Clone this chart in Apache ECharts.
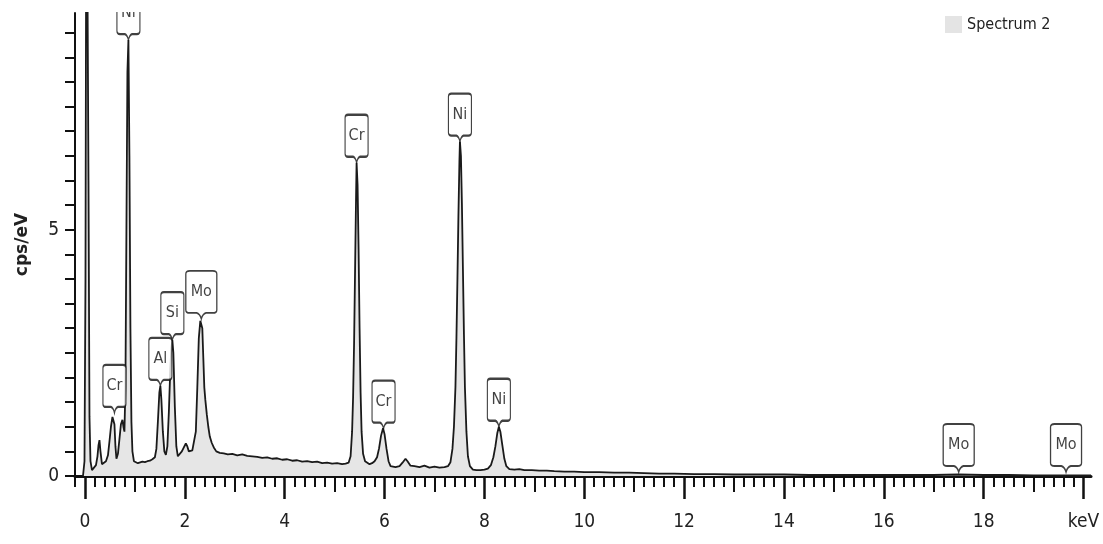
<!DOCTYPE html>
<html><head><meta charset="utf-8">
<script src="https://cdn.jsdelivr.net/npm/echarts@6/dist/echarts.min.js"></script>
<style>html,body{margin:0;padding:0;background:#fff}#c{width:1103px;height:544px}</style>
</head><body><div id="c"></div>
<script>
// EDS spectrum: [energy keV, cps/eV]
const spectrum = [
[-0.04,0],[-0.01,0.3],[0.01,4],[0.03,14],[0.05,14],[0.07,6],[0.09,1.2],[0.11,0.3],[0.14,0.12],[0.18,0.16],
[0.22,0.22],[0.25,0.4],[0.27,0.62],[0.29,0.73],[0.31,0.5],[0.34,0.24],[0.38,0.22],[0.42,0.3],[0.46,0.42],[0.49,0.7],
[0.52,1.0],[0.55,1.2],[0.57,1.24],[0.59,1.05],[0.61,0.6],[0.63,0.35],[0.66,0.45],[0.69,0.75],[0.72,1.05],[0.75,1.14],
[0.77,1.0],[0.79,0.9],[0.81,1.8],[0.83,5],[0.85,8.2],[0.87,8.85],[0.89,6.5],[0.91,3.0],[0.93,1.1],[0.95,0.5],
[0.98,0.3],[1.02,0.27],[1.06,0.26],[1.1,0.27],[1.15,0.29],[1.2,0.28],[1.25,0.3],[1.3,0.31],[1.35,0.34],[1.4,0.38],
[1.43,0.55],[1.46,1.1],[1.49,1.7],[1.51,1.83],[1.53,1.55],[1.56,0.9],[1.59,0.5],[1.62,0.43],[1.65,0.6],[1.68,1.3],
[1.71,2.2],[1.73,2.6],[1.75,2.76],[1.77,2.5],[1.8,1.4],[1.83,0.6],[1.86,0.4],[1.9,0.44],[1.94,0.5],[1.98,0.58],
[2.02,0.66],[2.05,0.6],[2.08,0.5],[2.11,0.47],[2.15,0.52],[2.19,0.56],[2.22,0.9],[2.25,1.8],[2.28,2.8],[2.31,3.15],
[2.33,3.19],[2.35,3.0],[2.37,2.4],[2.39,1.8],[2.41,1.55],[2.44,1.25],[2.47,1.0],[2.5,0.8],[2.54,0.67],[2.58,0.58],
[2.63,0.5],[2.7,0.47],[2.78,0.46],[2.86,0.44],[2.95,0.45],[3.05,0.42],[3.15,0.44],[3.25,0.41],[3.35,0.4],[3.45,0.39],
[3.55,0.37],[3.65,0.38],[3.75,0.35],[3.85,0.36],[3.95,0.33],[4.05,0.34],[4.15,0.31],[4.25,0.32],[4.35,0.29],[4.45,0.3],
[4.55,0.28],[4.65,0.29],[4.75,0.26],[4.85,0.27],[4.95,0.25],[5.05,0.26],[5.15,0.24],[5.22,0.25],[5.28,0.27],[5.32,0.4],
[5.35,0.9],[5.37,1.6],[5.39,2.7],[5.41,4.2],[5.43,5.7],[5.44,6.36],[5.46,5.9],[5.48,4.6],[5.5,3.0],[5.52,1.7],
[5.54,0.9],[5.57,0.45],[5.61,0.3],[5.65,0.26],[5.7,0.24],[5.75,0.26],[5.8,0.3],[5.85,0.38],[5.89,0.56],[5.93,0.82],
[5.97,0.97],[6.0,0.85],[6.04,0.55],[6.08,0.3],[6.12,0.2],[6.16,0.16],[6.22,0.18],[6.3,0.2],[6.36,0.27],[6.42,0.35],
[6.46,0.3],[6.52,0.21],[6.6,0.2],[6.7,0.18],[6.8,0.21],[6.9,0.17],[7.0,0.19],[7.1,0.17],[7.2,0.18],[7.27,0.2],
[7.32,0.28],[7.36,0.55],[7.39,1.0],[7.42,1.8],[7.44,2.8],[7.46,4.0],[7.48,5.3],[7.5,6.4],[7.51,6.79],[7.53,6.5],
[7.55,5.5],[7.57,4.2],[7.59,2.9],[7.61,1.8],[7.64,0.9],[7.67,0.4],[7.71,0.2],[7.77,0.13],[7.84,0.12],[7.92,0.12],
[8.0,0.13],[8.07,0.15],[8.13,0.22],[8.18,0.38],[8.22,0.6],[8.26,0.88],[8.29,1.0],[8.32,0.9],[8.36,0.62],[8.4,0.35],
[8.44,0.2],[8.5,0.14],[8.6,0.13],[8.7,0.14],[8.8,0.12],[8.95,0.12],[9.1,0.11],[9.25,0.11],[9.4,0.1],[9.6,0.09],
[9.8,0.09],[10.0,0.08],[10.3,0.08],[10.6,0.07],[10.9,0.07],[11.2,0.06],[11.5,0.05],[11.8,0.05],[12.2,0.04],[12.6,0.04],
[13.0,0.03],[13.5,0.03],[14.0,0.03],[14.5,0.02],[15.0,0.02],[15.5,0.02],[16.0,0.02],[16.5,0.02],[17.0,0.02],[17.5,0.03],
[18.0,0.02],[18.5,0.02],[19.0,0.01],[19.5,0.01],[20.0,0.01],[20.15,0.01]
];
// peak identification labels
const peakNames = ['Ni','Cr','Al','Si','Mo','Cr','Cr','Ni','Ni','Mo','Mo'];
const peakKeV   = [0.87, 0.59, 1.51, 1.75, 2.33, 5.44, 5.98, 7.51, 8.29, 17.5, 19.65];
const peakCps   = [8.85, 1.28, 1.83, 2.76, 3.19, 6.36, 0.96, 6.79, 1.0, 0.08, 0.08];
// axis ticks / labels
const xMajorTicks = [0,2,4,6,8,10,12,14,16,18,20];
const xMidTicks = [1,3,5,7,9,11,13,15,17,19];
const yTicks = [0,0.5,1,1.5,2,2.5,3,3.5,4,4.5,5,5.5,6,6.5,7,7.5,8,8.5,9];
const yLabels = [0,5];
const xMinorTicks = [];
for (let i = -1; i <= 100; i++) { const v = +(i * 0.2).toFixed(1); if (Math.abs(v - Math.round(v)) > 1e-6) xMinorTicks.push(v); }

const NARROW = "'Liberation Sans Narrow','DejaVu Sans Condensed',sans-serif";
const callout = 'path://M3,0 H20 Q23,0 23,3 V39 Q23,42 20,42 H15 Q12.5,43 11.5,48 Q10.5,43 8,42 H3 Q0,42 0,39 V3 Q0,0 3,0 Z';
const XMIN = -0.2, XMAX = 20.15;

const chart = echarts.init(document.getElementById('c'), null, {renderer: 'canvas'});
const hiddenAxis = (ticks, len, w) => ({
  type: 'value', min: XMIN, max: XMAX, position: 'bottom', gridIndex: 0,
  axisLine: {show: false, onZero: false},
  axisTick: {show: true, customValues: ticks, length: len, lineStyle: {color: '#111', width: w}},
  axisLabel: {show: false}, splitLine: {show: false}
});
chart.setOption({
  animation: false,
  backgroundColor: '#fff',
  grid: {left: 75, top: 13, width: 1016, bottom: 68, containLabel: false, outerBoundsMode: 'none'},
  legend: {
    data: [{name: 'Spectrum 2', icon: 'rect', itemStyle: {color: '#e4e4e4', borderWidth: 0}}],
    left: 940, top: 11, itemWidth: 17, itemHeight: 17, selectedMode: false,
    textStyle: {fontSize: 16, fontFamily: NARROW, color: '#222'}
  },
  xAxis: [
    {
      type: 'value', min: XMIN, max: XMAX, position: 'bottom', gridIndex: 0,
      axisLine: {show: true, onZero: false, lineStyle: {color: '#111', width: 3}},
      axisTick: {show: true, customValues: xMajorTicks, length: 23, lineStyle: {color: '#111', width: 2.5}},
      axisLabel: {show: true, customValues: xMajorTicks, margin: 37, fontSize: 19, fontFamily: NARROW, color: '#222',
        formatter: v => (v === 20 ? 'keV' : String(v))},
      splitLine: {show: false}
    },
    hiddenAxis(xMidTicks, 16, 2),
    hiddenAxis(xMinorTicks, 11, 2)
  ],
  yAxis: {
    type: 'value', min: 0, max: 9.4,
    name: 'cps/eV', nameLocation: 'middle', nameGap: 44, nameRotate: 90,
    nameTextStyle: {fontSize: 17, fontWeight: 'bold', fontFamily: 'DejaVu Sans, sans-serif', color: '#222'},
    axisLine: {show: true, onZero: false, lineStyle: {color: '#111', width: 2}},
    axisTick: {show: true, customValues: yTicks, length: 10, lineStyle: {color: '#111', width: 2}},
    axisLabel: {show: true, customValues: yLabels, margin: 16, fontSize: 19, fontFamily: NARROW, color: '#222'},
    splitLine: {show: false}
  },
  series: [
    {
      name: 'Spectrum 2', type: 'line', xAxisIndex: 0, yAxisIndex: 0,
      data: spectrum, showSymbol: false, symbol: 'none', clip: true, z: 2,
      lineStyle: {color: '#1a1a1a', width: 1.8},
      areaStyle: {color: '#e6e6e6', opacity: 1},
      itemStyle: {color: '#e4e4e4'}
    },
    {
      name: 'labels', type: 'scatter', xAxisIndex: 0, yAxisIndex: 0, clip: false, z: 5, silent: true,
      data: peakNames.map((n, i) => ({name: n, value: [peakKeV[i], peakCps[i]], symbolSize: [n === 'Mo' ? 31 : 23, 48]})),
      symbol: callout, symbolOffset: [0, '-50%'], symbolKeepAspect: false,
      itemStyle: {color: '#fff', borderColor: '#111', borderWidth: 1.6},
      label: {show: true, position: 'inside', offset: [0, -3], formatter: '{b}', fontSize: 16, fontFamily: NARROW, color: '#111'}
    }
  ],
  graphic: [{type: 'rect', left: 0, top: 0, z: 100, shape: {width: 1103, height: 12}, style: {fill: '#fff'}}]
});
</script></body></html>
